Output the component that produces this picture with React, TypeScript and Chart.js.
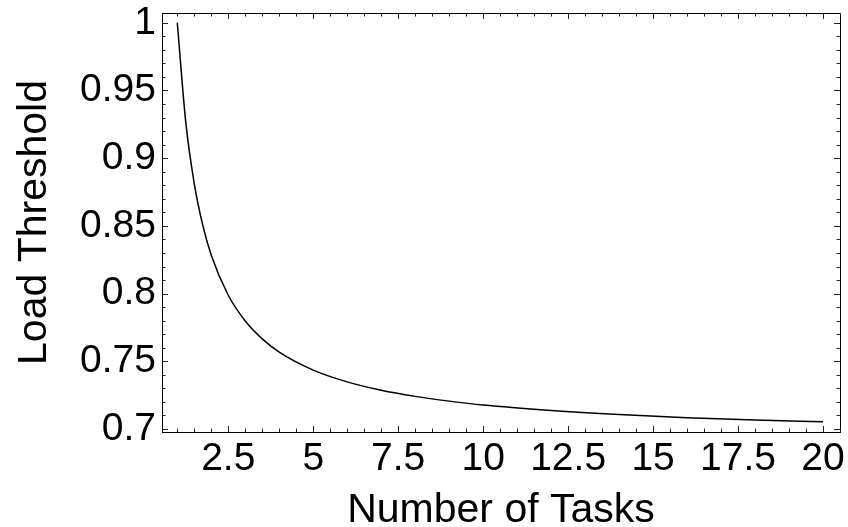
import React, { useEffect, useRef } from "react";
import { Chart, registerables } from "chart.js";

Chart.register(...registerables);

const taskCounts = [1, 1.25, 1.5, 1.75, 2, 2.5, 3, 3.5, 4, 5, 6, 7, 8, 9, 10, 12, 14, 16, 18, 20];
const loadThreshold = [1.0, 0.9264, 0.8811, 0.8505, 0.8284, 0.7988, 0.7798, 0.7666, 0.7568, 0.7435, 0.7348, 0.7286, 0.7241, 0.7206, 0.7177, 0.7137, 0.7107, 0.7084, 0.7066, 0.7053];

const xTickValues = [2.5, 5, 7.5, 10, 12.5, 15, 17.5, 20];
const xTickLabels = ["2.5", "5", "7.5", "10", "12.5", "15", "17.5", "20"];
const yTickValues = [0.7, 0.75, 0.8, 0.85, 0.9, 0.95, 1];
const yTickLabels = ["0.7", "0.75", "0.8", "0.85", "0.9", "0.95", "1"];
const xMinorTicks = [1, 1.5, 2, 3, 3.5, 4, 4.5, 5.5, 6, 6.5, 7, 8, 8.5, 9, 9.5, 10.5, 11, 11.5, 12, 13, 13.5, 14, 14.5, 15.5, 16, 16.5, 17, 18, 18.5, 19, 19.5, 20.5];
const yMinorTicks = [0.71, 0.72, 0.73, 0.74, 0.76, 0.77, 0.78, 0.79, 0.81, 0.82, 0.83, 0.84, 0.86, 0.87, 0.88, 0.89, 0.91, 0.92, 0.93, 0.94, 0.96, 0.97, 0.98, 0.99];

const FONT = "'Liberation Sans', Arial, Helvetica, sans-serif";

const framePlugin = {
  id: "mmaFrame",
  afterDatasetsDraw(chart: any) {
    const { ctx, chartArea, scales } = chart;
    const { left, right, top, bottom } = chartArea;
    const xs = scales.x;
    const ys = scales.y;
    ctx.save();
    ctx.strokeStyle = "#000";
    ctx.lineWidth = 1;
    ctx.strokeRect(Math.round(left) + 0.5, Math.round(top) + 0.5, Math.round(right - left), Math.round(bottom - top));
    ctx.strokeStyle = "#222";
    const major = 6;
    const minor = 3.5;
    const drawX = (v: number, len: number) => {
      const px = Math.round(xs.getPixelForValue(v)) + 0.5;
      ctx.beginPath();
      ctx.moveTo(px, bottom);
      ctx.lineTo(px, bottom - len);
      ctx.moveTo(px, top);
      ctx.lineTo(px, top + len);
      ctx.stroke();
    };
    const drawY = (v: number, len: number) => {
      const py = Math.round(ys.getPixelForValue(v)) + 0.5;
      ctx.beginPath();
      ctx.moveTo(left, py);
      ctx.lineTo(left + len, py);
      ctx.moveTo(right, py);
      ctx.lineTo(right - len, py);
      ctx.stroke();
    };
    xTickValues.forEach((v) => drawX(v, major));
    xMinorTicks.forEach((v) => drawX(v, minor));
    yTickValues.forEach((v) => drawY(v, major));
    yMinorTicks.forEach((v) => drawY(v, minor));
    ctx.restore();
  },
};

export default function App() {
  const ref = useRef<HTMLCanvasElement | null>(null);
  useEffect(() => {
    if (!ref.current) return;
    const chart = new Chart(ref.current, {
      type: "line",
      data: {
        datasets: [
          {
            data: taskCounts.map((x, i) => ({ x, y: loadThreshold[i] })),
            borderColor: "#000",
            borderWidth: 1.5,
            pointRadius: 0,
            fill: false,
            cubicInterpolationMode: "monotone",
          },
        ],
      },
      options: {
        animation: false,
        responsive: false,
        devicePixelRatio: 1,
        layout: { padding: { top: 13, right: 8, left: 0, bottom: 0 } },
        plugins: { legend: { display: false }, tooltip: { enabled: false } },
        scales: {
          x: {
            type: "linear",
            min: 0.55,
            max: 20.5,
            grid: { display: false, drawTicks: false },
            border: { display: false },
            afterBuildTicks: (s: any) => {
              s.ticks = xTickValues.map((v) => ({ value: v }));
            },
            afterFit: (s: any) => {
              s.height = 95;
              s.paddingLeft = 0;
              s.paddingRight = 0;
            },
            ticks: {
              autoSkip: false,
              maxRotation: 0,
              padding: 4,
              color: "#000",
              font: { family: FONT, size: 39 },
              callback: (v: any) => {
                const i = xTickValues.indexOf(Number(v));
                return i >= 0 ? xTickLabels[i] : "";
              },
            },
            title: {
              display: true,
              text: "Number of Tasks",
              color: "#000",
              font: { family: FONT, size: 41, lineHeight: 1 },
              padding: { top: 0, bottom: -4 },
            },
          },
          y: {
            type: "linear",
            min: 0.6978,
            max: 1.0072,
            grid: { display: false, drawTicks: false },
            border: { display: false },
            afterBuildTicks: (s: any) => {
              s.ticks = yTickValues.map((v) => ({ value: v }));
            },
            afterFit: (s: any) => {
              s.width = 162;
              s.paddingTop = 0;
              s.paddingBottom = 0;
            },
            ticks: {
              autoSkip: false,
              padding: 6,
              color: "#000",
              font: { family: FONT, size: 39 },
              callback: (v: any) => {
                const i = yTickValues.findIndex((t) => Math.abs(t - Number(v)) < 1e-9);
                return i >= 0 ? yTickLabels[i] : "";
              },
            },
            title: {
              display: true,
              text: "Load Threshold",
              color: "#000",
              font: { family: FONT, size: 41, lineHeight: 1 },
              padding: { top: 14, bottom: 0 },
            },
          },
        },
      },
      plugins: [framePlugin],
    } as any);
    return () => chart.destroy();
  }, []);
  return (
    <div style={{ position: "fixed", left: 0, top: 0, width: 848, height: 527, background: "#fff" }}>
      <canvas ref={ref} width={848} height={527} style={{ width: 848, height: 527, display: "block" }} />
    </div>
  );
}
